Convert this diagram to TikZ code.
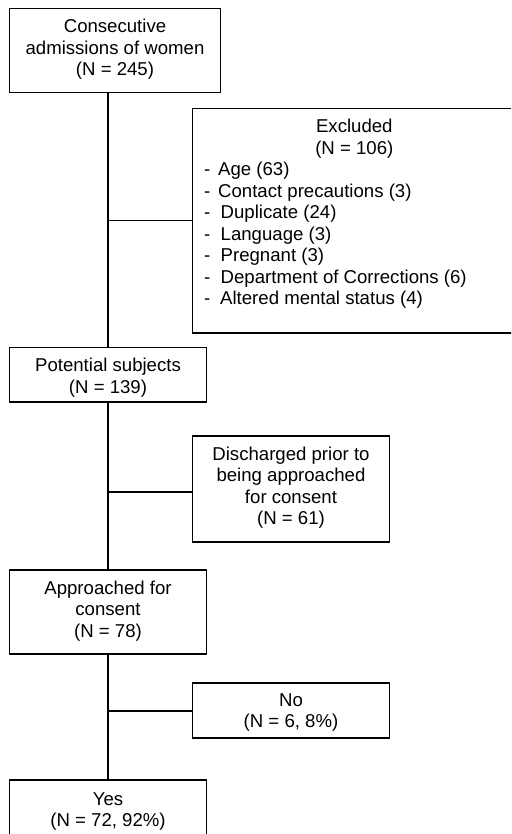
\documentclass[tikz,border=0pt]{standalone}
\usepackage{fontspec}
\setmainfont{Liberation Sans}
\newcommand\flowfont{\fontsize{18.6pt}{21.5pt}\selectfont}
\begin{document}
\begin{tikzpicture}[x=1pt,y=-1pt,
  box/.style={draw, line width=1.1pt, inner sep=0pt, align=center, font=\flowfont, text depth=4pt},
  txt/.style={inner sep=0pt, font=\flowfont},
  conn/.style={line width=1.1pt}]
\useasboundingbox (0,0) rectangle (511,834);
\clip (0,0) rectangle (511,834);
% boxes
\node[box, minimum width=211pt, minimum height=84pt, text height=54.4pt] (adm) at (115,50.5) {Consecutive\\admissions of women\\(N = 245)};
\node[box, minimum width=323.5pt, minimum height=224.5pt] (excl) at (354.25,220.75) {};
\node[txt, anchor=base] (exclA) at (354.3,132.7) {Excluded};
\node[txt, anchor=base] (exclB) at (354.3,154.2) {(N = 106)};
\node[txt, anchor=base west] (ex1) at (204,175.7) {\makebox[14pt][l]{-}Age (63)};
\node[txt, anchor=base west] (ex2) at (204,197.2) {\makebox[14pt][l]{-}Contact precautions (3)};
\node[txt, anchor=base west] (ex3) at (204,218.7) {\makebox[16.5pt][l]{-}Duplicate (24)};
\node[txt, anchor=base west] (ex4) at (204,240.2) {\makebox[16.5pt][l]{-}Language (3)};
\node[txt, anchor=base west] (ex5) at (204,261.7) {\makebox[16.5pt][l]{-}Pregnant (3)};
\node[txt, anchor=base west] (ex6) at (204,283.2) {\makebox[16.5pt][l]{-}Department of Corrections (6)};
\node[txt, anchor=base west] (ex7) at (204,304.7) {\makebox[16pt][l]{-}Altered mental status (4)};
\node[box, minimum width=197pt, minimum height=54.5pt, text height=40.9pt] (pot) at (108,374.75) {Potential subjects\\(N = 139)};
\node[box, minimum width=197pt, minimum height=106pt, text height=75pt] (dis) at (291,489) {Discharged prior to\\being approached\\for consent\\(N = 61)};
\node[box, minimum width=197pt, minimum height=84pt, text height=54.6pt] (app) at (108,612) {Approached for\\consent\\(N = 78)};
\node[box, minimum width=197pt, minimum height=55pt, text height=38pt] (no) at (291,710.5) {No\\(N = 6, 8\%)};
\node[box, minimum width=197pt, minimum height=55pt, text height=42pt] (yes) at (108,807.5) {Yes\\(N = 72, 92\%)};
% connectors
\coordinate (b1) at (pot.north |- excl.west);
\coordinate (b2) at (108,492);
\coordinate (b3) at (108,711);
\draw[conn] (pot.north |- adm.south) -- (pot.north);
\draw[conn] (b1) -- (excl.west);
\draw[conn] (pot.south) -- (app.north);
\draw[conn] (b2) -- (b2 -| dis.west);
\draw[conn] (app.south) -- (yes.north);
\draw[conn] (b3) -- (b3 -| no.west);
\end{tikzpicture}
\end{document}
